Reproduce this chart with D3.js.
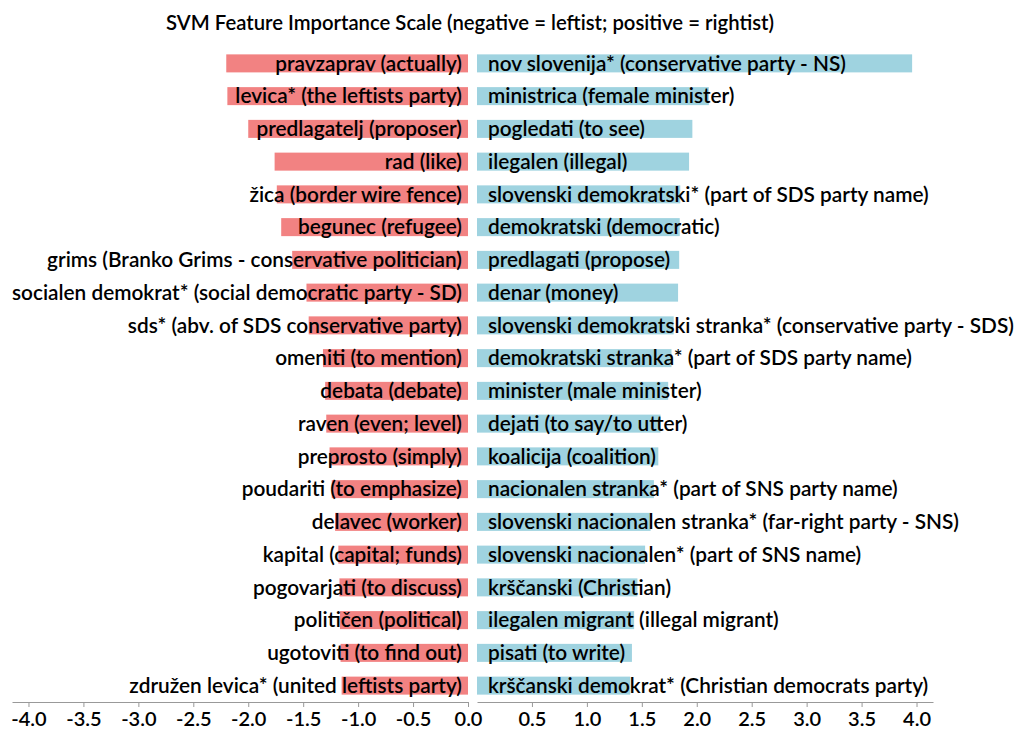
<!DOCTYPE html>
<html lang="en">
<head>
    <meta charset="UTF-8">
    <title>SVM Feature Importance Scale</title>
    <script src="https://d3js.org/d3.v7.min.js"></script>
    <style>
        body {
            margin: 0;
            background-color: #fff;
            font-family: Lato, "Open Sans", sans-serif;
        }
        .title {
            font-size: 20.3px;
            font-weight: 600;
            fill: #000;
        }
        .label {
            font-size: 20.8px;
            font-weight: 600;
            fill: #000;
        }
        .axis text {
            font-size: 20px;
            font-weight: 600;
            fill: #000;
        }
        .axis path, .axis line {
            stroke: #999;
        }
    </style>
</head>
<body>
    <div id="chart"></div>
    <script>
        // Words pushing the prediction to the left (negative weights)
        const leftWords = [
            "pravzaprav (actually)",
            "levica* (the leftists party)",
            "predlagatelj (proposer)",
            "rad (like)",
            "žica (border wire fence)",
            "begunec (refugee)",
            "grims (Branko Grims - conservative politician)",
            "socialen demokrat* (social democratic party - SD)",
            "sds* (abv. of SDS conservative party)",
            "omeniti (to mention)",
            "debata (debate)",
            "raven (even; level)",
            "preprosto (simply)",
            "poudariti (to emphasize)",
            "delavec (worker)",
            "kapital (capital; funds)",
            "pogovarjati (to discuss)",
            "političen (political)",
            "ugotoviti (to find out)",
            "združen levica* (united leftists party)"
        ];
        const leftValues = [
            -2.20, -2.19, -2.00, -1.76, -1.74, -1.70, -1.60, -1.47, -1.45, -1.32,
            -1.30, -1.29, -1.26, -1.24, -1.21, -1.18, -1.17, -1.165, -1.16, -1.15
        ];

        // Words pushing the prediction to the right (positive weights)
        const rightWords = [
            "nov slovenija* (conservative party - NS)",
            "ministrica (female minister)",
            "pogledati (to see)",
            "ilegalen (illegal)",
            "slovenski demokratski* (part of SDS party name)",
            "demokratski (democratic)",
            "predlagati (propose)",
            "denar (money)",
            "slovenski demokratski stranka* (conservative party - SDS)",
            "demokratski stranka* (part of SDS party name)",
            "minister (male minister)",
            "dejati (to say/to utter)",
            "koalicija (coalition)",
            "nacionalen stranka* (part of SNS party name)",
            "slovenski nacionalen stranka* (far-right party - SNS)",
            "slovenski nacionalen* (part of SNS name)",
            "krščanski (Christian)",
            "ilegalen migrant (illegal migrant)",
            "pisati (to write)",
            "krščanski demokrat* (Christian democrats party)"
        ];
        const rightValues = [
            3.96, 2.11, 1.96, 1.93, 1.85, 1.845, 1.84, 1.83, 1.79, 1.77,
            1.74, 1.67, 1.65, 1.61, 1.58, 1.53, 1.46, 1.43, 1.41, 1.395
        ];

        const leftTicks = [-4.0, -3.5, -3.0, -2.5, -2.0, -1.5, -1.0, -0.5, 0.0];
        const rightTicks = [0.5, 1.0, 1.5, 2.0, 2.5, 3.0, 3.5, 4.0];

        const width = 1014, height = 729;
        const axisY = 702;
        const maxAbs = 4.15;

        const svg = d3.select("#chart")
            .append("svg")
            .attr("width", width)
            .attr("height", height);

        // two half scales with a small gap in the middle
        const xLeft = d3.scaleLinear().domain([-maxAbs, 0]).range([12, 468]);
        const xRight = d3.scaleLinear().domain([0, maxAbs]).range([477, 933]);

        const y = d3.scaleBand()
            .domain(d3.range(leftWords.length))
            .range([38, 711])
            .paddingInner(0.45)
            .paddingOuter(0.5);

        // Title
        svg.append("text")
            .attr("class", "title")
            .attr("x", 470)
            .attr("y", 30)
            .attr("text-anchor", "middle")
            .text("SVM Feature Importance Scale (negative = leftist; positive = rightist)");

        // Negative bars
        svg.append("g").selectAll("rect")
            .data(leftValues)
            .join("rect")
            .attr("x", d => xLeft(d))
            .attr("y", (d, i) => y(i))
            .attr("width", d => xLeft(0) - xLeft(d))
            .attr("height", y.bandwidth())
            .attr("fill", "#f28282");

        // Positive bars
        svg.append("g").selectAll("rect")
            .data(rightValues)
            .join("rect")
            .attr("x", xRight(0))
            .attr("y", (d, i) => y(i))
            .attr("width", d => xRight(d) - xRight(0))
            .attr("height", y.bandwidth())
            .attr("fill", "#9fd3e0");

        // Labels
        svg.append("g").selectAll("text")
            .data(leftWords)
            .join("text")
            .attr("class", "label")
            .attr("x", xLeft(0) - 6)
            .attr("y", (d, i) => y(i) + y.bandwidth() / 2)
            .attr("dy", "0.35em")
            .attr("text-anchor", "end")
            .text(d => d);

        svg.append("g").selectAll("text")
            .data(rightWords)
            .join("text")
            .attr("class", "label")
            .attr("x", xRight(0) + 11)
            .attr("y", (d, i) => y(i) + y.bandwidth() / 2)
            .attr("dy", "0.35em")
            .attr("text-anchor", "start")
            .text(d => d);

        // Axes
        const fmt = d => d.toFixed(1);

        svg.append("g")
            .attr("class", "axis")
            .attr("transform", `translate(0,${axisY})`)
            .call(d3.axisBottom(xLeft).tickValues(leftTicks).tickFormat(fmt).tickSize(5).tickSizeOuter(0))
            .call(g => g.selectAll("text").attr("dy", "0.8em"));

        svg.append("g")
            .attr("class", "axis")
            .attr("transform", `translate(0,${axisY})`)
            .call(d3.axisBottom(xRight).tickValues(rightTicks).tickFormat(fmt).tickSize(5).tickSizeOuter(0))
            .call(g => g.selectAll("text").attr("dy", "0.8em"));

        svg.selectAll(".axis").attr("font-family", null).attr("font-size", null);
    </script>
</body>
</html>
